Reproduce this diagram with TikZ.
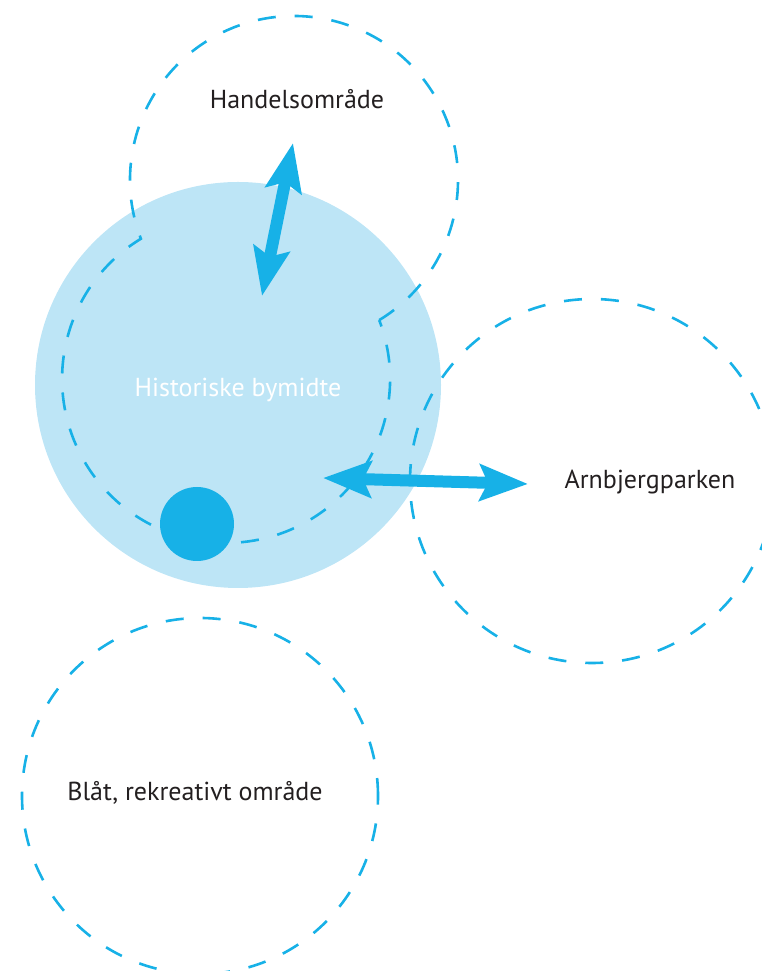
\documentclass[tikz,border=0pt]{standalone}
\usepackage{fontspec}
\setmainfont{PT Sans}
\usetikzlibrary{arrows.meta, positioning}

\definecolor{bycyan}{HTML}{17B1E7}
\definecolor{bylight}{HTML}{BDE5F6}
\definecolor{bytext}{HTML}{231F20}

\tikzset{
  zoneline/.style={draw=bycyan, line width=2.6pt, dash pattern=on 18pt off 19pt},
  zone/.style={circle, zoneline, inner sep=0pt},
  areatext/.style={font=\fontsize{26}{30}\selectfont, text=bytext, anchor=base},
  link/.style={draw=bycyan, line width=12pt,
    {Stealth[length=48pt,width=36pt,inset=8pt]}-{Stealth[length=48pt,width=36pt,inset=8pt]}},
}

\begin{document}
\begin{tikzpicture}[x=1pt, y=1pt]
    \useasboundingbox (0,0) rectangle (761,971);

    \node[circle, fill=bylight, minimum size=406pt, inner sep=0pt] (bymidte) at (238,586) {};

    % Handelsomraade and bymidte share one outline
    \coordinate (handel) at (294,791);
    \coordinate (midte) at (226,592);
    \draw[zoneline] ([shift={(-58.7:164)}]handel)
        arc[start angle=-58.7, end angle=201, radius=164]
        arc[start angle=121.3, end angle=381, radius=164];

    \node[zone, minimum size=364pt] (arnbjerg) at (592,490) {};
    \node[zone, minimum size=356pt] (blaat) at (200,175) {};
    \node[circle, fill=bycyan, minimum size=74pt, inner sep=0pt] (spot) at (197,447) {};

    \coordinate (handelTip) at (293,828);
    \coordinate (midteTop) at (262,675);
    \coordinate (midteRight) at (323,493);
    \coordinate (arnbjergTip) at (528,487);
    \draw[link] (midteTop) -- (handelTip);
    \draw[link] (midteRight) -- (arnbjergTip);

    \node[areatext] (handelText) at (297,862) {Handelsområde};
    \node[areatext, text=white] (bymidteText) at (238,574) {Historiske bymidte};
    \node[areatext] (arnbjergText) at (650,482) {Arnbjergparken};
    \node[areatext] (blaatText) at (195,170) {Blåt, rekreativt område};
\end{tikzpicture}
\end{document}
